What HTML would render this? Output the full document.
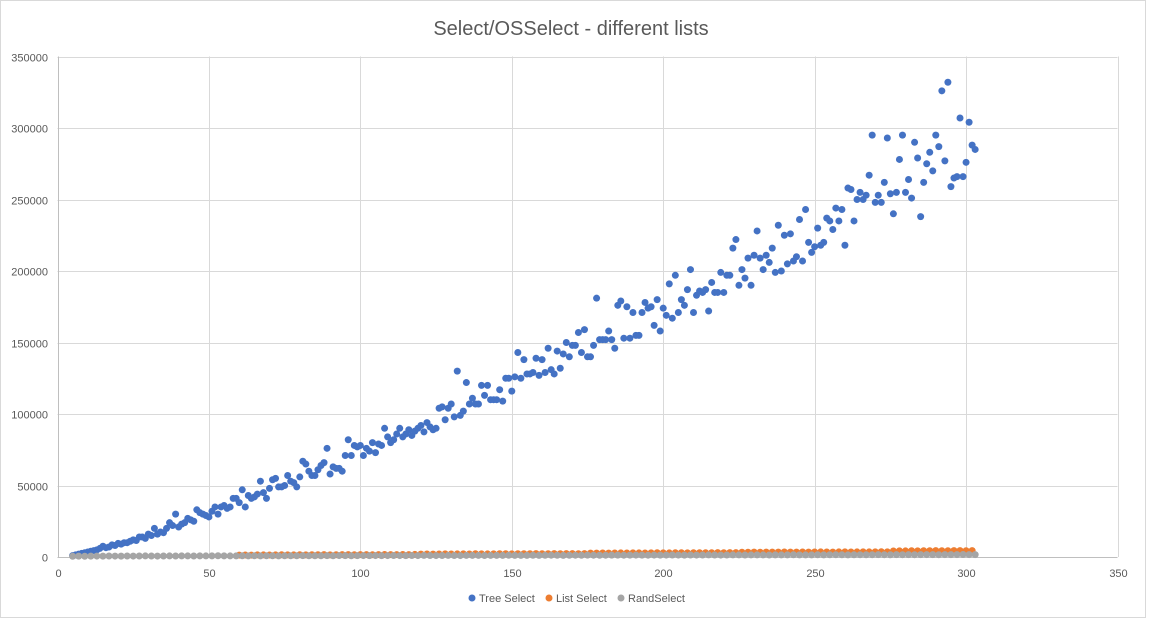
<!DOCTYPE html>
<html><head><meta charset="utf-8">
<style>
html,body{margin:0;padding:0;background:#fff;}
body{width:1164px;height:634px;overflow:hidden;font-family:"Liberation Sans",sans-serif;}
</style></head>
<body>
<svg id="chart" width="1164" height="634" xmlns="http://www.w3.org/2000/svg">
<rect x="0.5" y="0.5" width="1145" height="617" fill="#fff" stroke="#d9d9d9"/>
<text x="571" y="35" text-anchor="middle" font-size="20" fill="#595959">Select/OSSelect - different lists</text>
<g id="grid"></g><g id="axes"></g><g id="marks"></g>
<g font-size="11" fill="#595959">
<circle cx="472" cy="598" r="3.5" fill="#4472c4"/>
<text x="479" y="602">Tree Select</text>
<circle cx="549" cy="598" r="3.5" fill="#ed7d31"/>
<text x="556" y="602">List Select</text>
<circle cx="621" cy="598" r="3.5" fill="#a5a5a5"/>
<text x="628" y="602">RandSelect</text>
</g>
</svg>
<script>
const xTicks=[0,50,100,150,200,250,300,350];
const yTicks=[0,50000,100000,150000,200000,250000,300000,350000];
const treeStartX=5;
const treeValues=[1000,1500,2000,2500,3000,3500,4000,4500,5000,6000,
7500,6500,7000,8500,8000,9500,9000,10000,10000,11000,
12000,11500,14000,14000,13000,16000,15000,20000,16000,17500,
17000,20000,24000,22000,30000,21000,23000,24000,27000,26000,
25000,33000,31000,30000,29000,28000,32000,35000,30000,35000,
36000,34000,35000,41000,41000,38000,47000,35000,43000,41000,
42000,44000,53000,45000,41000,48000,54000,55000,49000,49000,
50000,57000,53000,52000,49000,56000,67000,65000,60000,57000,
57000,61000,64000,66000,76000,58000,63000,62000,62000,60000,
71000,82000,71000,78000,77000,78000,71000,76000,74000,80000,
73000,79000,78000,90000,84000,80000,82000,86000,90000,84000,
86000,89000,85000,88000,90000,92000,87500,94000,91000,89000,
90000,104000,105000,96000,104000,107000,98000,130000,99000,102000,
122000,107000,111000,107000,107000,120000,113000,120000,110000,110000,
110000,117000,109000,125000,125000,116000,126000,143000,125000,138000,
128000,128000,129000,139000,127000,138000,129000,146000,131000,128000,
144000,132000,142000,150000,140000,148000,148000,157000,143000,159000,
140000,140000,148000,181000,152000,152000,152000,158000,152000,146000,
176000,179000,153000,175000,153000,171000,155000,155000,171000,178000,
174000,175000,162000,180000,158000,174000,169000,191000,167000,197000,
171000,180000,176000,187000,201000,171000,183000,186000,185000,187000,
172000,192000,185000,185000,199000,185000,197000,197000,216000,222000,
190000,201000,195000,209000,190000,211000,228000,209000,201000,211000,
206000,216000,199000,232000,200000,225000,205000,226000,207000,210000,
236000,207000,243000,220000,213000,217000,230000,218000,220000,237000,
235000,229000,244000,235000,243000,218000,258000,257000,235000,250000,
255000,250000,253000,267000,295000,248000,253000,248000,262000,293000,
254000,240000,255000,278000,295000,255000,264000,251000,290000,279000,
238000,262000,275000,283000,270000,295000,287000,326000,277000,332000,
259000,265000,266000,307000,266000,276000,304000,288000,285000];
const listStartX=60, listStepX=2;
const listValues=[1300,1400,1350,1500,1450,1400,1500,1550,1500,1450,1600,1500,1550,1600,1650,1500,1600,1650,1700,1600,1650,1700,1600,1700,1750,1650,1700,1750,1700,1800,
2000,2100,2050,2100,2200,2100,2150,2200,2100,2250,2200,2150,2200,2300,2250,2200,2300,2250,2300,2350,2250,2300,2350,2300,2400,2350,2300,2400,
2700,2750,2800,2700,2800,2850,2800,2900,2850,2800,2900,2950,2900,2850,2950,3000,2900,2950,3000,2950,3000,3050,3000,3050,3100,
3300,3350,3400,3350,3400,3450,3400,3500,3450,3400,3500,3450,3500,3550,3500,3450,3550,3600,3500,3550,3600,3550,3600,3650,3600,
4200,4300,4250,4400,4300,4350,4400,4500,4350,4400,4500,4450,4400,4500];
const randStartX=5, randStepX=2;
const randValues=[500,600,550,600,650,600,700,650,600,700,650,700,750,700,650,700,750,700,800,750,700,800,750,800,850,800,750,800,850,800,
850,800,900,850,800,900,850,900,950,900,850,900,950,900,1000,950,900,950,1000,950,
1000,950,1000,1050,1000,950,1050,1000,1100,1050,1000,1050,1100,1050,1000,1100,1150,1100,1050,1100,
1150,1100,1200,1150,1100,1150,1200,1150,1200,1250,1200,1150,1200,1250,1200,1300,1250,1200,1250,1300,
1300,1250,1300,1350,1300,1250,1350,1300,1350,1400,1350,1300,1400,1350,1400,1450,1400,1350,1400,1450,
1450,1400,1450,1500,1450,1400,1500,1450,1500,1550,1500,1450,1500,1550,1500,1550,1600,1550,1500,1550,
1600,1550,1600,1650,1600,1550,1650,1600,1650,1600,
1650,1700,1650,1600,1700,1650,1700,1750,1700,1650];

const NS='http://www.w3.org/2000/svg';
const L=57.5,R=1117.5,T=56.5,B=557;
function sx(v){return L+(v-0)/(350-0)*(R-L);}
function sy(v){return B-(v-0)/(350000-0)*(B-T);}
const grid=document.getElementById('grid'),axes=document.getElementById('axes'),marks=document.getElementById('marks');
function mk(tag,attrs,parent){const e=document.createElementNS(NS,tag);for(const k in attrs)e.setAttribute(k,attrs[k]);parent.appendChild(e);return e;}
yTicks.forEach(t=>{
  const y=Math.round(sy(t))+0.5;
  const ln=mk('line',{x1:L,x2:R,y1:y,y2:y,stroke:t===0?'#bfbfbf':'#d9d9d9'},grid);
  
  
  const tx=mk('text',{x:48,y:y+4,'text-anchor':'end','font-size':'11',fill:'#595959'},axes);
  tx.textContent=t;
  
  
});
xTicks.forEach(t=>{
  const x=Math.round(sx(t))+0.5;
  const ln=mk('line',{x1:x,x2:x,y1:T,y2:B,stroke:t===0?'#bfbfbf':'#d9d9d9'},grid);
  
  
  const tx=mk('text',{x:x,y:577,'text-anchor':'middle','font-size':'11',fill:'#595959'},axes);
  tx.textContent=t;
  
  
});
function series(vals,x0,step,color,name){
  vals.forEach((v,i)=>{
    const c=mk('circle',{cx:sx(x0+i*step),cy:sy(v),r:3.5,fill:color},marks);
    
    
  });
}
series(treeValues,treeStartX,1,'#4472c4','tree-select-point');
series(listValues,listStartX,listStepX,'#ed7d31','list-select-point');
series(randValues,randStartX,randStepX,'#a5a5a5','rand-select-point');
</script>
</body></html>
